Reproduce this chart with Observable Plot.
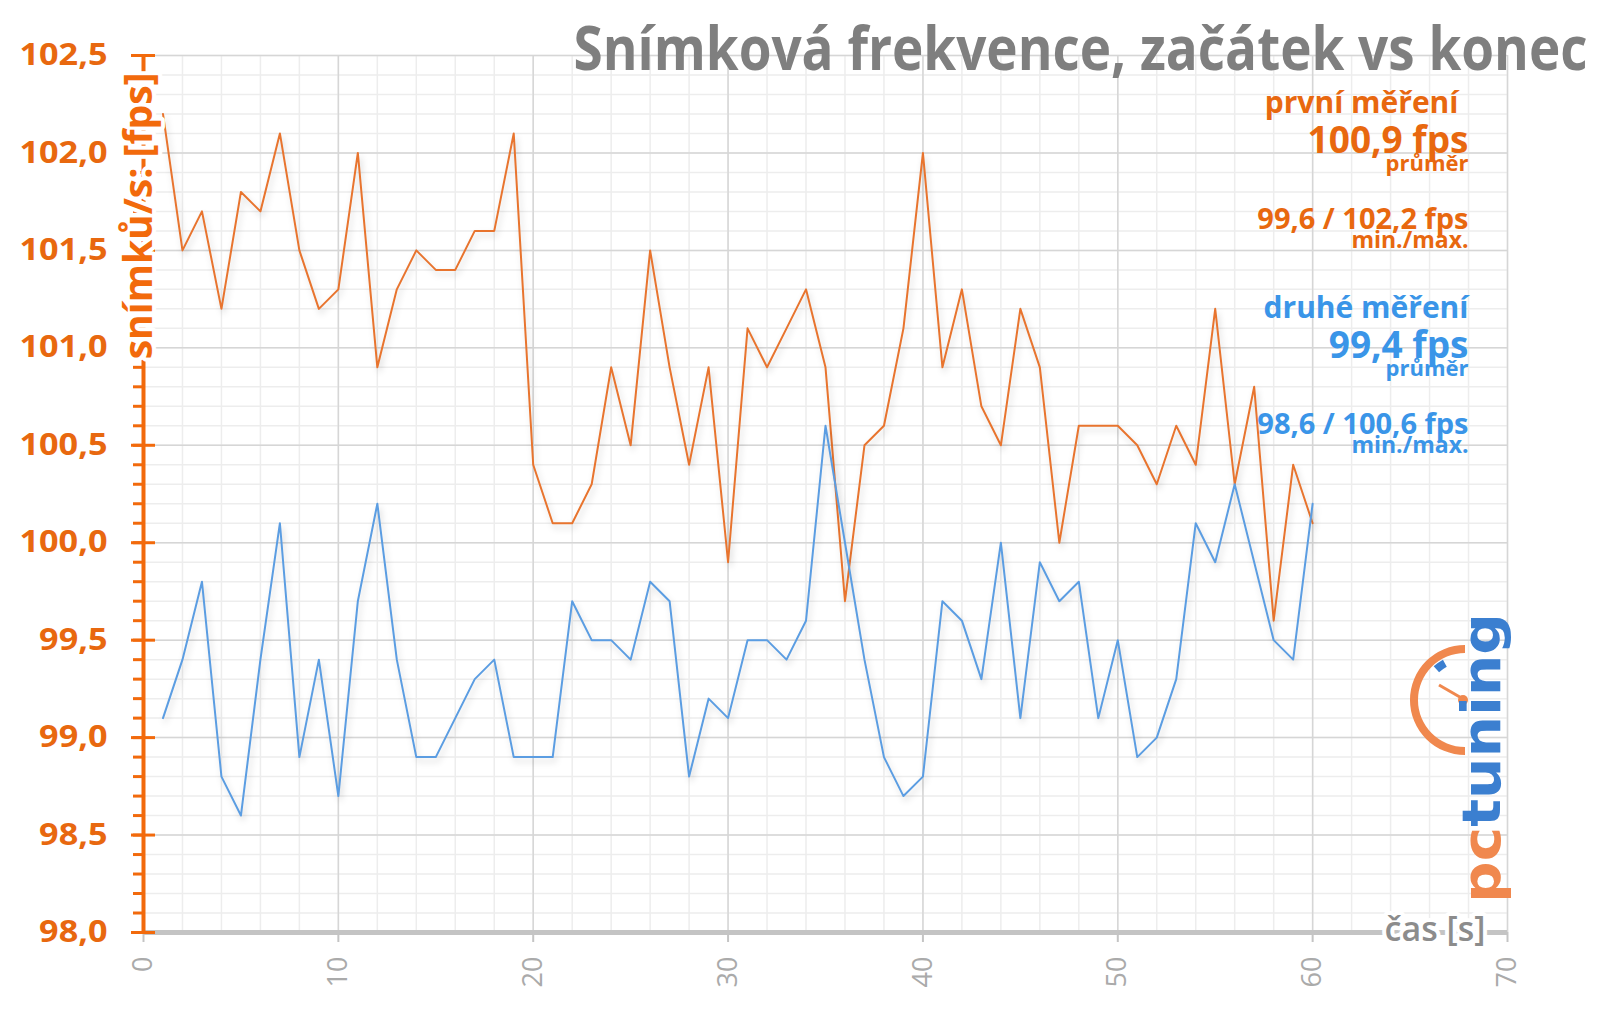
<!DOCTYPE html>
<html>
<head>
<meta charset="utf-8">
<script src="https://cdn.jsdelivr.net/npm/d3@7"></script>
<script src="https://cdn.jsdelivr.net/npm/@observablehq/plot@0.6"></script>
<style>
  html, body { margin: 0; padding: 0; background: #ffffff; }
  #chart { width: 1600px; height: 1015px; }
  svg { font-family: "Open Sans", "Noto Sans", sans-serif; }
</style>
</head>
<body>
<div id="chart"></div>
<script>
// ---------- data ----------
const seconds = d3.range(1, 61);
const firstRun = [102.2,101.5,101.7,101.2,101.8,101.7,102.1,101.5,101.2,101.3,
                  102.0,100.9,101.3,101.5,101.4,101.4,101.6,101.6,102.1,100.4,
                  100.1,100.1,100.3,100.9,100.5,101.5,100.9,100.4,100.9,99.9,
                  101.1,100.9,101.1,101.3,100.9,99.7,100.5,100.6,101.1,102.0,
                  100.9,101.3,100.7,100.5,101.2,100.9,100.0,100.6,100.6,100.6,
                  100.5,100.3,100.6,100.4,101.2,100.3,100.8,99.6,100.4,100.1];
const secondRun = [99.1,99.4,99.8,98.8,98.6,99.4,100.1,98.9,99.4,98.7,
                   99.7,100.2,99.4,98.9,98.9,99.1,99.3,99.4,98.9,98.9,
                   98.9,99.7,99.5,99.5,99.4,99.8,99.7,98.8,99.2,99.1,
                   99.5,99.5,99.4,99.6,100.6,100.0,99.4,98.9,98.7,98.8,
                   99.7,99.6,99.3,100.0,99.1,99.9,99.7,99.8,99.1,99.5,
                   98.9,99.0,99.3,100.1,99.9,100.3,99.9,99.5,99.4,100.2];

const yMajorTicks = [98, 98.5, 99, 99.5, 100, 100.5, 101, 101.5, 102, 102.5];
const yMinorTicks = d3.range(980, 1026).map(d => d / 10);
const xMajorTicks = [0, 10, 20, 30, 40, 50, 60, 70];
const xMinorTicks = d3.range(0, 71, 2);

const titleText = "Snímková frekvence, začátek vs konec";
const yAxisLabel = "snímků/s: [fps]";
const xAxisLabel = "čas [s]";
const firstNotes = ["první měření", "100,9 fps", "průměr", "99,6 / 102,2 fps", "min./max."];
const secondNotes = ["druhé měření", "99,4 fps", "průměr", "98,6 / 100,6 fps", "min./max."];
const logoParts = ["pc", "tuning"];

// ---------- styles ----------
const ORANGE_AXIS = "#f26a0c";
const ORANGE_TEXT = "#e8680f";
const ORANGE_LINE = "#e8742e";
const BLUE_LINE = "#5b9de2";
const BLUE_TEXT = "#3a95e8";
const GRID_MAJOR = "#d6d6d6";
const GRID_MINOR = "#ededed";
const AXIS_GRAY = "#c4c4c4";
const TICK_GRAY = "#aaaaaa";

const noteStyles = [
  {size: 30, dy: 57},
  {size: 37, dy: 97},
  {size: 22, dy: 115},
  {size: 29, dy: 173},
  {size: 23, dy: 192}
];
const noteMarks = (notes, color, offset, firstShift) => notes.map((t, i) =>
  Plot.text([t], {
    text: d => d, frameAnchor: "top-right", textAnchor: "end", lineAnchor: "bottom",
    dx: -39 - (i === 0 ? firstShift : 0), dy: noteStyles[i].dy + offset,
    fontSize: noteStyles[i].size, fontWeight: 700, fill: color
  })
);

const chart = Plot.plot({
  width: 1600,
  height: 1015,
  marginLeft: 143,
  marginRight: 93,
  marginTop: 55,
  marginBottom: 83,
  style: {background: "#ffffff", fontFamily: "'Open Sans', sans-serif", overflow: "visible"},
  x: {domain: [0, 70]},
  y: {domain: [98, 102.5]},
  marks: [
    Plot.gridY(yMinorTicks, {stroke: GRID_MINOR, strokeOpacity: 1, strokeWidth: 1.5}),
    Plot.gridX(xMinorTicks, {stroke: GRID_MINOR, strokeOpacity: 1, strokeWidth: 1.5}),
    Plot.gridY(yMajorTicks, {stroke: GRID_MAJOR, strokeOpacity: 1, strokeWidth: 1.5}),
    Plot.gridX(xMajorTicks, {stroke: GRID_MAJOR, strokeOpacity: 1, strokeWidth: 1.5}),

    Plot.line(seconds, {x: d => d, y: (d, i) => firstRun[i], stroke: ORANGE_LINE, strokeWidth: 2}),
    Plot.line(seconds, {x: d => d, y: (d, i) => secondRun[i], stroke: BLUE_LINE, strokeWidth: 2}),

    // x axis
    Plot.ruleY([98], {stroke: AXIS_GRAY, strokeWidth: 5}),
    Plot.axisX(xMajorTicks, {tickSize: 10, tickFormat: () => "", color: AXIS_GRAY, strokeWidth: 2, label: null}),
    Plot.axisX(xMajorTicks, {tickSize: 0, tickRotate: -90, tickPadding: 24, fontSize: 27,
      color: TICK_GRAY, label: null}),
    Plot.text([xAxisLabel], {text: d => d, frameAnchor: "bottom-right", textAnchor: "end", lineAnchor: "middle",
      dx: -22, dy: -2, fontSize: 34, fontWeight: 600, fill: "#8c8c8c",
      stroke: "white", strokeWidth: 8, paintOrder: "stroke"}),

    // y axis
    Plot.ruleX([0], {stroke: ORANGE_AXIS, strokeWidth: 4}),
    Plot.axisY(yMinorTicks, {tickSize: 10, tickFormat: () => "", color: ORANGE_AXIS, strokeWidth: 3, label: null}),
    Plot.axisY(yMajorTicks, {tickSize: 24, dx: 12, tickFormat: () => "", color: ORANGE_AXIS, strokeWidth: 3, label: null}),
    Plot.axisY(yMajorTicks, {tickSize: 0, tickPadding: 36, tickFormat: d => d.toFixed(1).replace(".", ","),
      color: ORANGE_TEXT, fontSize: 30, fontWeight: 700, label: null}),
    Plot.text([yAxisLabel], {text: d => d, frameAnchor: "top-left", rotate: -90, textAnchor: "end", lineAnchor: "middle",
      dx: -4, dy: 17, fontSize: 39, fontWeight: 700, fill: ORANGE_AXIS,
      stroke: "white", strokeWidth: 8, paintOrder: "stroke"}),

    // title
    Plot.text([titleText], {text: d => d, frameAnchor: "top-right", textAnchor: "end", lineAnchor: "bottom",
      dx: 80, dy: 14, fontSize: 60, fontWeight: 700, fill: "#7f7f7f"}),

    ...noteMarks(firstNotes, ORANGE_TEXT, 0, 10),
    ...noteMarks(secondNotes, BLUE_TEXT, 205, 0)
  ]
});

document.getElementById("chart").appendChild(chart);

// soft drop shadow under the series lines
chart.querySelectorAll('g[aria-label="line"] path').forEach(p => {
  p.style.filter = "drop-shadow(2px 4px 3px rgba(0,0,0,0.16))";
});

// fit text widths (reference glyphs are a little wider)
const yTickStrings = yMajorTicks.map(d => d.toFixed(1).replace(".", ","));
chart.querySelectorAll("text").forEach(t => {
  if (t.textContent === titleText) {
    t.setAttribute("textLength", 1014);
    t.setAttribute("lengthAdjust", "spacingAndGlyphs");
  } else if (yTickStrings.includes(t.textContent)) {
    const w = t.getComputedTextLength();
    t.setAttribute("textLength", (w * 1.14).toFixed(1));
    t.setAttribute("lengthAdjust", "spacingAndGlyphs");
  }
});

// pctuning logo
const svg = d3.select(chart);
const logo = svg.append("g");
const cx = 1465, cy = 700;
logo.append("path")
  .attr("transform", `translate(${cx},${cy})`)
  .attr("d", d3.arc()({innerRadius: 47, outerRadius: 55, startAngle: Math.PI, endAngle: 2 * Math.PI}))
  .attr("fill", "#f0884e");
logo.append("path")
  .attr("transform", `translate(${cx},${cy})`)
  .attr("d", d3.arc()({innerRadius: 38, outerRadius: 46, startAngle: -0.75, endAngle: -0.5}))
  .attr("fill", "#3b7fd0");
logo.append("line")
  .attr("x1", cx).attr("y1", cy).attr("x2", cx - 26).attr("y2", cy - 15)
  .attr("stroke", "#f0884e").attr("stroke-width", 3);
logo.append("circle").attr("cx", cx - 2).attr("cy", cy).attr("r", 5).attr("fill", "#f0884e");
const lt = logo.append("text")
  .attr("transform", "translate(1500,903) rotate(-90)")
  .attr("text-anchor", "start")
  .attr("font-family", "'DejaVu Sans', sans-serif")
  .attr("font-weight", 700)
  .attr("font-size", 54)
  .attr("textLength", 290)
  .attr("lengthAdjust", "spacingAndGlyphs");
lt.selectAll("tspan").data(logoParts).join("tspan")
  .attr("fill", (d, i) => i ? "#3b7fd0" : "#f0884e")
  .text(d => d);
</script>
</body>
</html>
